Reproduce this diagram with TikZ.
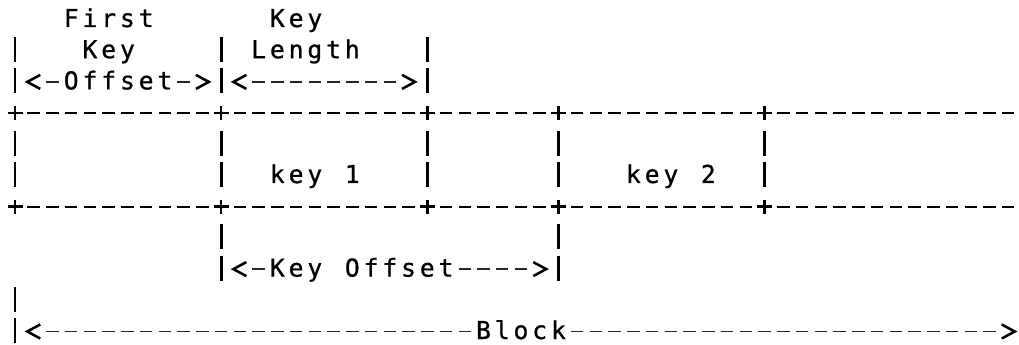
\documentclass[tikz,border=0pt]{standalone}
\usepackage{fontspec}
\newfontfamily\asciifont[FakeBold=0.8]{DejaVu Sans Mono}

% character cell of the fixed-pitch layout
\newlength\cellw
\setlength\cellw{14.055pt}
\ExplSyntaxOn
\NewDocumentCommand\spread{m}{\tl_map_inline:nn {#1}{\makebox[\cellw][c]{##1}}}
\ExplSyntaxOff

% column / row centres (units: x=0.75pt, y=-0.75pt)
\newcommand\colx[1]{15+18.74*(#1)}
\newcommand\rowy[1]{18.5+31.2*(#1)}

\tikzset{
  x=0.75pt, y=-0.75pt,
  pipe/.style={line width=2.1pt, black},
  plusmark/.style={line width=1.9pt, black},
  boxline/.style={line width=1.65pt, black, dash pattern=on 9.375pt off 4.68pt},
  arrowline/.style={line width=1.4pt, black!85, dash pattern=on 9.375pt off 4.68pt},
  chev/.style={line width=1.9pt, black, line join=miter},
  lbl/.style={anchor=base west, inner sep=0pt, outer sep=0pt,
    font={\asciifont\fontsize{18.5pt}{20pt}\selectfont}},
}

\newcommand\pipeat[2]{\draw[pipe] ({\colx{#1}},{\rowy{#2}-12.5}) -- ++(0,25);}
\newcommand\plusat[2]{\draw[plusmark] ({\colx{#1}-7.5},{\rowy{#2}+1}) -- ++(15,0)
  ({\colx{#1}},{\rowy{#2}-6}) -- ++(0,14);}
\newcommand\boxrun[3]{\draw[boxline] ({\colx{#1}-6.25},{\rowy{#3}+1}) -- ({\colx{#2}+6.25},{\rowy{#3}+1});}
\newcommand\arrowrun[3]{\draw[arrowline] ({\colx{#1}-6.25},{\rowy{#3}+1}) -- ({\colx{#2}+6.25},{\rowy{#3}+1});}
\newcommand\leftchev[2]{\draw[chev] ({\colx{#1}+6.5},{\rowy{#2}+1-7}) -- ++(-13,7) -- ++(13,7);}
\newcommand\rightchev[2]{\draw[chev] ({\colx{#1}-6.5},{\rowy{#2}+1-7}) -- ++(13,7) -- ++(-13,7);}
\newcommand\labelat[4]{\node[lbl] (#1) at ({\colx{#2}-9.37},{\rowy{#3}+8.5}) {\spread{#4}};}

\begin{document}
\begin{tikzpicture}
\fill[white] (0,0) rectangle (1019,345);
\useasboundingbox (0,0) rectangle (1019,345);

% header labels
\labelat{first}{3}{0}{First}
\labelat{keyhead}{14}{0}{Key}
\labelat{firstkey}{4}{1}{Key}
\labelat{length}{13}{1}{Length}
\labelat{offset}{3}{2}{Offset}

% header bars and span arrows
\foreach \c in {0,11,22} {\pipeat{\c}{1} \pipeat{\c}{2}}
\leftchev{1}{2} \arrowrun{2}{2}{2} \arrowrun{9}{9}{2} \rightchev{10}{2}
\leftchev{12}{2} \arrowrun{13}{20}{2} \rightchev{21}{2}

% block row: top and bottom edges
\foreach \r in {3,6} {
  \boxrun{1}{10}{\r} \boxrun{12}{21}{\r} \boxrun{23}{28}{\r}
  \boxrun{30}{39}{\r} \boxrun{41}{53}{\r}
  \foreach \c in {0,11,22,29,40} {\plusat{\c}{\r}}
}
% block row: separators
\foreach \c in {0,11,22,29,40} {\pipeat{\c}{4} \pipeat{\c}{5}}
\labelat{key1}{14}{5}{key~1}
\labelat{key2}{33}{5}{key~2}

% key offset span
\foreach \c in {11,29} {\pipeat{\c}{7} \pipeat{\c}{8}}
\leftchev{12}{8} \arrowrun{13}{13}{8}
\labelat{keyoffset}{14}{8}{Key~Offset}
\arrowrun{24}{27}{8} \rightchev{28}{8}

% block span
\pipeat{0}{9} \pipeat{0}{10}
\leftchev{1}{10} \arrowrun{2}{24}{10}
\labelat{block}{25}{10}{Block}
\arrowrun{30}{52}{10} \rightchev{53}{10}
\end{tikzpicture}
\end{document}
